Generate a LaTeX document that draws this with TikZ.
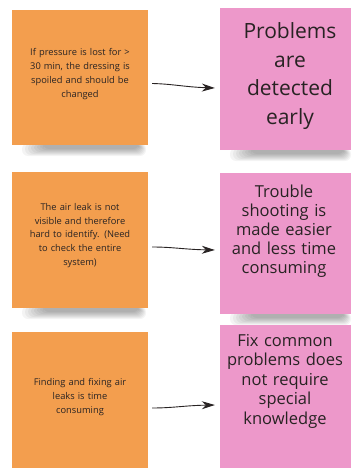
\documentclass[tikz,border=0pt]{standalone}
\usepackage{fontspec}
\setmainfont{Open Sans}
\usetikzlibrary{arrows.meta,calc}
\definecolor{onote}{RGB}{243,158,78}
\definecolor{pnote}{RGB}{237,152,202}
\definecolor{ink}{RGB}{40,35,35}
\tikzset{
  onotebox/.style={fill=onote, draw=none, inner sep=0pt, minimum width=136pt},
  pnotebox/.style={fill=pnote, draw=none, inner sep=0pt, minimum width=131pt},
  otext/.style={text=ink, align=center, text width=124pt, inner sep=0pt, font=\fontsize{9.3}{13.8}\selectfont},
  ptext/.style={text=ink, align=center, text width=140pt, inner sep=0pt},
  arr/.style={draw=ink, line width=0.9pt, -{Stealth[length=13pt,width=8pt]}},
}
\newcommand{\noteshadow}[3]{% x-left, x-right, y-bottom
  \foreach \k in {0,...,7}{
    \fill[black, opacity=0.045, rounded corners=6pt]
      ({#1+3*\k+8}, {#3-2}) rectangle ({#2-\k}, {#3+11-\k});
  }
}
\begin{document}
\begin{tikzpicture}[x=1pt,y=-1pt]
\useasboundingbox (0,0) rectangle (351,468);
\fill[white] (0,0) rectangle (351,468);
% shadows
\noteshadow{14}{146}{145}
\noteshadow{14}{146}{308}
\noteshadow{222}{351}{150}
\noteshadow{222}{351}{314}
% orange notes
\node[onotebox, minimum height=135pt] (o1) at (80,77.5) {};
\node[onotebox, minimum height=136pt] (o2) at (80,240) {};
\node[onotebox, minimum height=138pt] (o3) at (80,401) {};
% pink notes
\node[pnotebox, minimum height=142pt] (p1) at (285.5,79) {};
\node[pnotebox, minimum height=141pt] (p2) at (285.5,243.5) {};
\node[pnotebox, minimum height=143pt] (p3) at (285.5,396.5) {};
% texts
\node[otext] (o1t) at (80,74) {If pressure is lost for >\\30 min, the dressing is\\spoiled and should be\\changed};
\node[otext] (o2t) at (80,235.5) {The air leak is not\\visible and therefore\\hard to identify. (Need\\to check the entire\\system)};
\node[otext] (o3t) at (80,397) {Finding and fixing air\\leaks is time\\consuming};
\node[ptext, font=\fontsize{21}{28.5}\selectfont] (p1t) at (290,76) {Problems\\are\\detected\\early};
\node[ptext, font=\fontsize{16.5}{19}\selectfont] (p2t) at (284,231) {Trouble\\shooting is\\made easier\\and less time\\consuming};
\node[ptext, font=\fontsize{16.5}{19.5}\selectfont] (p3t) at (285,381) {Fix common\\problems does\\not require\\special\\knowledge};
% arrows
\draw[arr] ([shift={(4,6)}]o1.east) .. controls ([shift={(25,6.5)}]o1.east) and ([shift={(-35,8)}]p1.west) .. ([shift={(-5,9)}]p1.west);
\draw[arr] ([shift={(4,7)}]o2.east) .. controls ([shift={(25,7)}]o2.east) and ([shift={(-35,6)}]p2.west) .. ([shift={(-5,6.5)}]p2.west);
\draw[arr] ([shift={(4,7)}]o3.east) .. controls ([shift={(25,7)}]o3.east) and ([shift={(-35,9)}]p3.west) .. ([shift={(-5,8.5)}]p3.west);
\end{tikzpicture}
\end{document}
